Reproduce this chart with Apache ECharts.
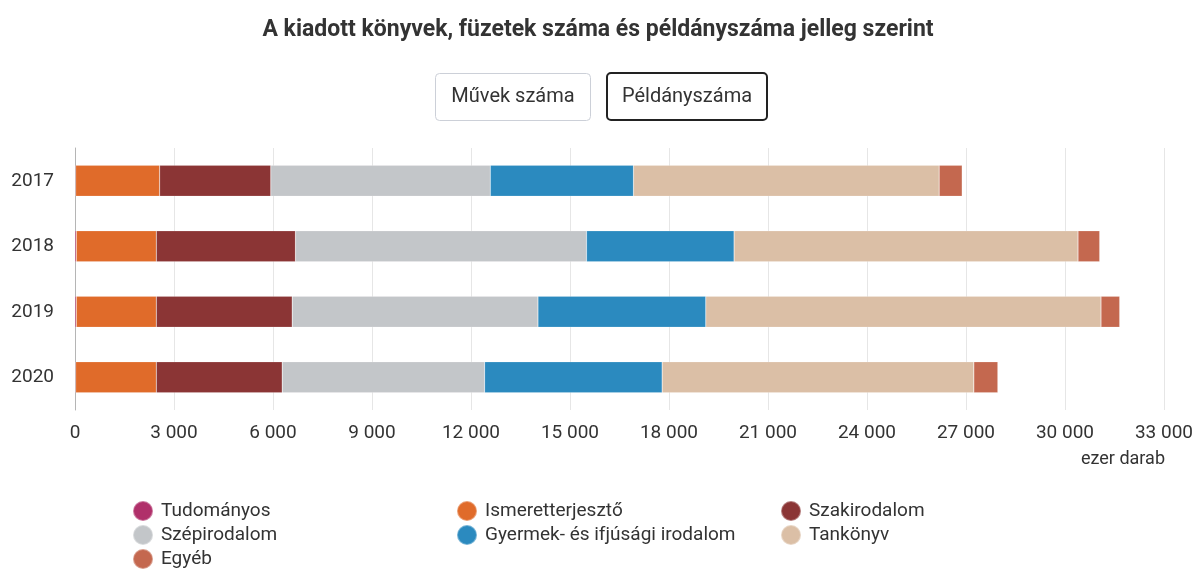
<!DOCTYPE html>
<html><head><meta charset="utf-8">
<script src="https://cdn.jsdelivr.net/npm/echarts@6/dist/echarts.min.js"></script>
<style>html,body{margin:0;padding:0;background:#fff}#c{width:1196px;height:570px}</style>
</head><body><div id="c"></div>
<script>
const years = ['2017', '2018', '2019', '2020'];
const seriesNames = ['Tudományos', 'Ismeretterjesztő', 'Szakirodalom', 'Szépirodalom', 'Gyermek- és ifjúsági irodalom', 'Tankönyv', 'Egyéb'];
const tudomanyos = [20, 40, 40, 20];
const ismeretterjeszto = [2545, 2424, 2424, 2444];
const szakirodalom = [3369, 4218, 4118, 3815];
const szepirodalom = [6652, 8819, 7448, 6134];
const gyermek = [4339, 4472, 5086, 5380];
const tankonyv = [9263, 10423, 11977, 9446];
const egyeb = [697, 657, 566, 727];
const xTicks = [0, 3000, 6000, 9000, 12000, 15000, 18000, 21000, 24000, 27000, 30000, 33000];

const values = [tudomanyos, ismeretterjeszto, szakirodalom, szepirodalom, gyermek, tankonyv, egyeb];
const colors = ['#b0306a', '#e06b2a', '#8b3535', '#c3c6c9', '#2b8abf', '#dbbfa6', '#c4684f'];
const font = 'Roboto, "Noto Sans", sans-serif';

const chart = echarts.init(document.getElementById('c'), null, {renderer: 'canvas'});
const fmt = v => String(v).replace(/\B(?=(\d{3})+(?!\d))/g, ' ');

const legendBase = {
  orient: 'vertical', icon: 'circle', itemWidth: 20, itemHeight: 20, itemGap: 2, padding: 0,
  height: 90,
  textStyle: {fontFamily: font, fontSize: 19, lineHeight: 20, color: '#333', padding: [0, 0, 0, 3]},
  selectedMode: false
};

chart.setOption({
  animation: false,
  color: colors,
  title: {
    text: 'A kiadott könyvek, füzetek száma és példányszáma jelleg szerint',
    left: 'center', top: 14,
    textStyle: {fontFamily: font, fontSize: 23, fontWeight: 'bold', color: '#333'}
  },
  legend: [
    Object.assign({}, legendBase, {left: 132, top: 500, data: [seriesNames[0], seriesNames[3], seriesNames[6]]}),
    Object.assign({}, legendBase, {left: 456, top: 500, data: [seriesNames[1], seriesNames[4]]}),
    Object.assign({}, legendBase, {left: 780, top: 500, data: [seriesNames[2], seriesNames[5]]})
  ],
  grid: {left: 75, right: 30, top: 148, bottom: 160, containLabel: false},
  xAxis: {
    type: 'value', min: xTicks[0], max: xTicks[xTicks.length - 1], interval: xTicks[1] - xTicks[0],
    axisLine: {show: false}, axisTick: {show: false},
    splitLine: {lineStyle: {color: '#e6e6e6', width: 1}},
    axisLabel: {fontFamily: font, fontSize: 19, color: '#333', margin: 14, formatter: fmt}
  },
  yAxis: {
    type: 'category', data: years, inverse: true,
    axisLine: {lineStyle: {color: '#b5b5b5', width: 1}},
    axisTick: {length: 11, lineStyle: {color: '#b5b5b5'}},
    axisLabel: {fontFamily: font, fontSize: 19, color: '#333', margin: 21}
  },
  graphic: [
    {type: 'rect', shape: {x: 435.5, y: 73.5, width: 155, height: 47, r: 4},
     style: {fill: '#fff', stroke: '#ccd0d8', lineWidth: 1}},
    {type: 'text', x: 513, y: 97, style: {text: 'Művek száma', font: '20px ' + font, fill: '#333', textAlign: 'center', textVerticalAlign: 'middle'}},
    {type: 'rect', shape: {x: 607, y: 73, width: 160, height: 47, r: 4},
     style: {fill: '#fff', stroke: '#222', lineWidth: 2}},
    {type: 'text', x: 687, y: 97, style: {text: 'Példányszáma', font: '20px ' + font, fill: '#333', textAlign: 'center', textVerticalAlign: 'middle'}},
    {type: 'text', x: 1165, y: 459, style: {text: 'ezer darab', font: '18px ' + font, fill: '#333', textAlign: 'right', textVerticalAlign: 'middle'}}
  ],
  series: seriesNames.map((n, i) => ({
    name: n, type: 'bar', stack: 'total', barWidth: 31,
    data: values[i],
    itemStyle: {color: colors[i], borderColor: 'rgba(255,255,255,0.35)', borderWidth: 0.5}
  }))
});
</script></body></html>
